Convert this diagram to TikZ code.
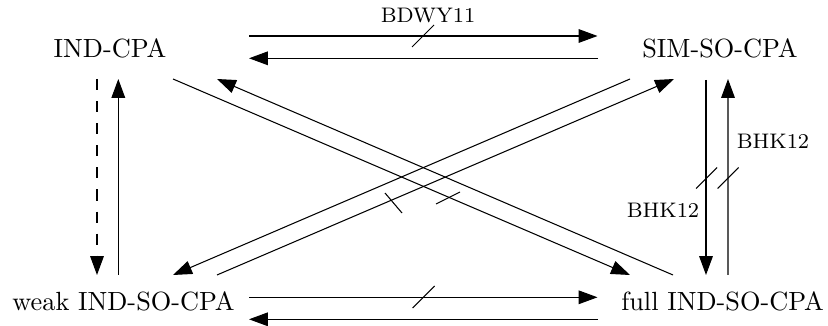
\documentclass[tikz,border=0pt]{standalone}
\usetikzlibrary{arrows.meta,calc}
\begin{document}
\begin{tikzpicture}[x=0.3802pt,y=-0.3802pt,
  every node/.style={inner sep=0pt},
  notion/.style={anchor=base, font=\normalsize},
  lbl/.style={font=\footnotesize},
  impl/.style={line width=0.4pt, -{Triangle[length=7.2pt,width=5.2pt]}},
  sep/.style={line width=0.4pt},
  ]
\useasboundingbox (0,0) rectangle (828,326);

% security notions
\node[notion] (A) at (110,57.5)  {IND-CPA};
\node[notion] (B) at (720,57.5)  {SIM-SO-CPA};
\node[notion] (C) at (123.5,311) {weak IND-SO-CPA};
\node[notion] (D) at (722.5,311) {full IND-SO-CPA};

% top pair
\draw[impl] ($(A.base)+(139,-21.5)$) -- ($(B.base)+(-122.5,-21.5)$);
\draw[impl] ($(B.base)+(-122,0.8)$) -- ($(A.base)+(139,0.8)$);
\draw[sep] (412,47) -- (434,25);
\node[lbl] (bdwy) at (428,16) {BDWY11};

% bottom pair
\draw[impl] ($(C.base)+(125.5,-13.7)$) -- ($(D.base)+(-125,-13.7)$);
\draw[impl] ($(D.base)+(-124.5,8.3)$) -- ($(C.base)+(125.5,8.3)$);
\draw[sep] (412.5,308) -- (434.5,286);

% left pair
\draw[impl, dash pattern=on 4.2pt off 4.2pt] ($(A.base)+(-13,21.5)$) -- ($(C.base)+(-26.5,-36)$);
\draw[impl] ($(C.base)+(-5.2,-36)$) -- ($(A.base)+(8.3,21.5)$);

% right pair
\draw[impl] ($(B.base)+(-14,22.5)$) -- ($(D.base)+(-16.5,-36)$);
\draw[impl] ($(D.base)+(5.5,-36)$) -- ($(B.base)+(8,21.5)$);
\draw[sep] (696,188.5) -- (717,167.5);
\draw[sep] (717.5,188.5) -- (738.5,167.5);
\node[lbl] (bhkr) at (773,141) {BHK12};
\node[lbl] (bhkl) at (663,210) {BHK12};

% diagonals
\draw[impl] ($(A.base)+(63,21.5)$) -- ($(D.base)+(-92.5,-36)$);
\draw[impl] ($(D.base)+(-49.5,-36)$) -- ($(A.base)+(107,21.5)$);
\draw[impl] ($(B.base)+(-90,21.5)$) -- ($(C.base)+(49.5,-36)$);
\draw[impl] ($(C.base)+(93.5,-36)$) -- ($(B.base)+(-46,21.5)$);
\draw[sep] (385,193) -- (402,213);
\draw[sep] (436,204) -- (460,192);
\end{tikzpicture}
\end{document}
